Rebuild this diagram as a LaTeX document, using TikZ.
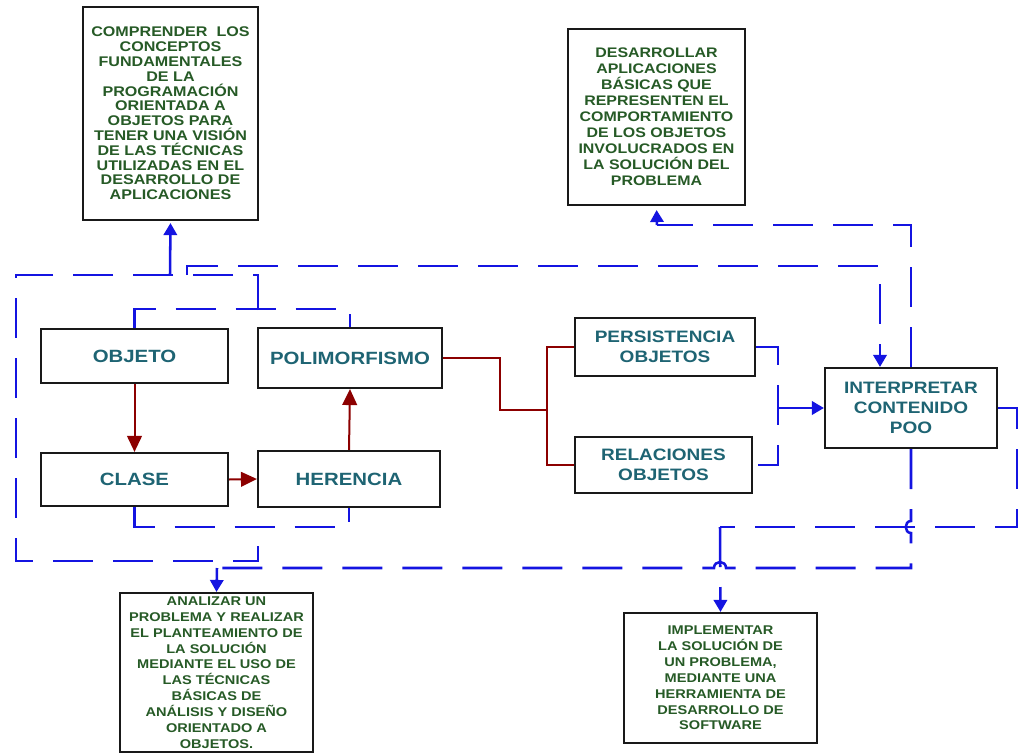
\documentclass[tikz,border=0pt]{standalone}
\usepackage{fontspec}
\newfontfamily\diagfont[FakeStretch=1.15]{Liberation Sans}
\usetikzlibrary{arrows.meta}
\definecolor{boxline}{RGB}{25,25,25}
\definecolor{conceptteal}{RGB}{30,100,115}
\definecolor{goalgreen}{RGB}{38,90,38}
\definecolor{linkblue}{RGB}{20,20,225}
\definecolor{flowred}{RGB}{140,0,0}
\tikzset{
  box/.style={draw=boxline, line width=1.6pt, fill=white, inner sep=0pt, align=center},
  concept/.style={box, text=conceptteal, font={\diagfont\bfseries\fontsize{13.3}{15}\selectfont}},
  conceptR/.style={box, text=conceptteal, font={\diagfont\bfseries\fontsize{12.4}{15}\selectfont}},
  goal/.style={box, text=goalgreen},
  link/.style={draw=linkblue, line width=1.9pt},
  dlink/.style={link, dash pattern=on 30pt off 15pt},
  flow/.style={draw=flowred, line width=1.5pt},
  tip/.style={-{Triangle[length=9pt,width=10pt]}},
  redtip/.style={-{Triangle[length=12pt,width=11pt]}},
}
\begin{document}
\begin{tikzpicture}[x=0.75pt,y=-0.75pt]
\useasboundingbox (0,0) rectangle (1021,753);

% goal boxes
\node[goal, minimum width=131.25pt, minimum height=159.75pt,
      font={\diagfont\bfseries\fontsize{10.5}{11.1}\selectfont}] (comp) at (170.5,113.5)
  {COMPRENDER \ LOS\\CONCEPTOS\\FUNDAMENTALES\\DE LA\\PROGRAMACIÓN\\ORIENTADA A\\OBJETOS PARA\\TENER UNA VISIÓN\\DE LAS TÉCNICAS\\UTILIZADAS EN EL\\DESARROLLO DE\\APLICACIONES};
\node[goal, minimum width=132.75pt, minimum height=132pt,
      font={\diagfont\bfseries\fontsize{10.4}{12}\selectfont}] (desa) at (656.5,117)
  {DESARROLLAR\\APLICACIONES\\BÁSICAS QUE\\REPRESENTEN EL\\COMPORTAMIENTO\\DE LOS OBJETOS\\INVOLUCRADOS EN\\LA SOLUCIÓN DEL\\PROBLEMA};
\node[goal, minimum width=144.75pt, minimum height=119.25pt,
      font={\diagfont\bfseries\fontsize{9.5}{11.9}\selectfont}] (anal) at (216.5,672.5)
  {ANALIZAR UN\\PROBLEMA Y REALIZAR\\EL PLANTEAMIENTO DE\\LA SOLUCIÓN\\MEDIANTE EL USO DE\\LAS TÉCNICAS\\BÁSICAS DE\\ANÁLISIS Y DISEÑO\\ORIENTADO A\\OBJETOS.};
\node[goal, minimum width=144.75pt, minimum height=97.5pt,
      font={\diagfont\bfseries\fontsize{9.5}{11.9}\selectfont}] (impl) at (720.5,678)
  {IMPLEMENTAR\\LA SOLUCIÓN DE\\UN PROBLEMA,\\MEDIANTE UNA\\HERRAMIENTA DE\\DESARROLLO DE\\SOFTWARE};

% concept boxes
\node[concept, minimum width=140.25pt, minimum height=40.5pt] (obj) at (134.5,356) {OBJETO};
\node[concept, minimum width=138pt, minimum height=45pt] (poli) at (350,358) {POLIMORFISMO};
\node[concept, minimum width=140.25pt, minimum height=39.75pt] (clase) at (134.5,479.5) {CLASE};
\node[concept, minimum width=136.5pt, minimum height=42pt] (her) at (349,479) {HERENCIA};
\node[conceptR, minimum width=135pt, minimum height=43.5pt] (pers) at (665,347) {PERSISTENCIA\\OBJETOS};
\node[conceptR, minimum width=132.75pt, minimum height=42pt] (rel) at (663.5,465) {RELACIONES\\OBJETOS};
\node[conceptR, minimum width=129pt, minimum height=60pt] (interp) at (911,408) {INTERPRETAR\\CONTENIDO\\POO};

% red flow between concepts
\draw[flow, redtip] (obj.south) -- (clase.north);
\draw[flow, redtip] (clase.east) -- (her.west);
\draw[flow, redtip] (her.north) -- (poli.south);
\coordinate (rj) at (500,410);
\coordinate (rk) at (547,410);
\draw[flow] (poli.east) -| (rj) -- (rk);
\draw[flow] (pers.west) -| (rk) |- (rel.west);

% blue links, left group
\draw[dlink] (obj.north) -- ++(0,-19) -| (poli.north);
\draw[dlink] (clase.south) -- ++(0,20) -| (her.south);
\coordinate (jt) at (258,310);
\coordinate (jb) at (258,526);
\coordinate (loopTL) at (16,275);
\coordinate (loopBL) at (16,561);
\draw[dlink] (jt) |- (loopTL) -- (loopBL) -| (jb);
\coordinate (up1) at (170,275);
\draw[link, tip, shorten >=1.5pt] (up1) -- (comp.south);
\coordinate (tl) at (187,275);
\coordinate (tr) at (880,266);
\draw[dlink, tip] (tl) |- (tr) -- (tr |- interp.north);

% blue links, right group
\coordinate (pr) at (778,408);
\draw[dlink] (pers.east) -| (pr) |- (rel.east);
\draw[link, tip] (pr) -- (interp.west);
\coordinate (dj) at (657,225);
\draw[dlink] (interp.north) |- (dj);
\draw[link, tip, shorten >=3pt] (dj) -- (desa.south);
\coordinate (ab) at (217,568);
\draw[dlink] (interp.south) -- (911,521) .. controls (904,521) and (904,533) .. (911,533)
  -- (911,568) -- (726,568) .. controls (726,560) and (714,560) .. (714,568) -- (ab);
\draw[link, tip] (ab) -- (anal.north);
\coordinate (ij) at (720,527);
\coordinate (rc) at (1017,527);
\draw[dlink] (interp.east) -| (rc) -- (ij);
\draw[dlink, tip] (ij) -- (impl.north);
\end{tikzpicture}
\end{document}
